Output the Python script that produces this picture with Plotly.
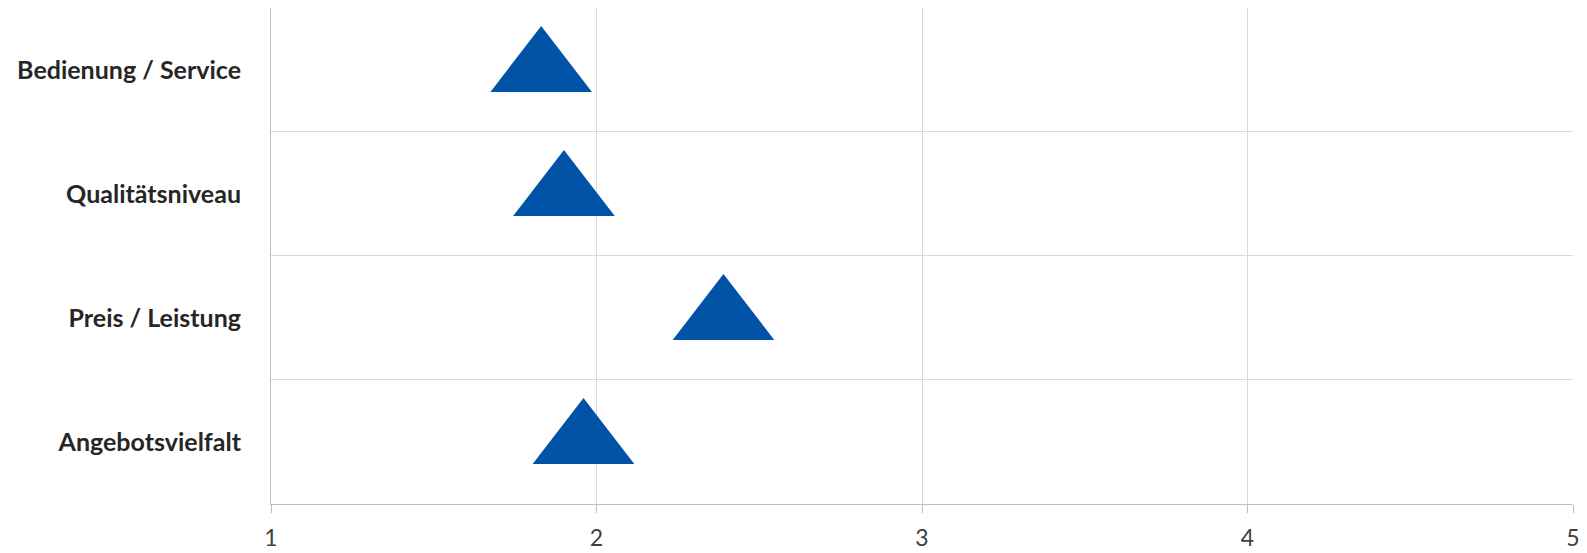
import plotly.graph_objects as go

categories = ["Angebotsvielfalt", "Preis / Leistung", "Qualitätsniveau", "Bedienung / Service"]
values = [1.96, 2.39, 1.90, 1.83]
x_ticks = [1, 2, 3, 4, 5]
x_tick_labels = ["1", "2", "3", "4", "5"]

fig = go.Figure()
fig.add_trace(go.Scatter(
    x=values,
    y=categories,
    mode="markers",
    marker=dict(symbol="triangle-up", size=88, color="#0053A6", line=dict(width=0)),
    showlegend=False,
    hoverinfo="x+y",
))

grid_color = "#D9D9D9"
axis_color = "#BFBFBF"

# page body has an 8px default margin, so the figure is sized to fit the 1587x553 window
fig.update_layout(
    width=1579,
    height=545,
    margin=dict(l=263, r=14, t=0, b=49),
    paper_bgcolor="white",
    plot_bgcolor="white",
    xaxis=dict(
        range=[1, 5],
        tickvals=x_ticks,
        ticktext=x_tick_labels,
        automargin=False,
        showgrid=True,
        gridcolor=grid_color,
        gridwidth=1,
        zeroline=False,
        showline=True,
        linecolor=axis_color,
        linewidth=1,
        ticks="outside",
        ticklen=8,
        tickcolor=axis_color,
        tickfont=dict(family="Lato", size=23, color="#404040"),
        ticklabelstandoff=5,
    ),
    yaxis=dict(
        type="category",
        categoryorder="array",
        categoryarray=categories,
        range=[-0.5, 3.499],
        automargin=False,
        tickson="boundaries",
        showgrid=True,
        gridcolor=grid_color,
        gridwidth=1,
        zeroline=False,
        showline=True,
        linecolor=axis_color,
        linewidth=1,
        ticks="",
        tickfont=dict(family="Lato", size=25, color="#262626", weight="bold"),
        ticklabelstandoff=24,
    ),
)

fig.write_html("out.html")
